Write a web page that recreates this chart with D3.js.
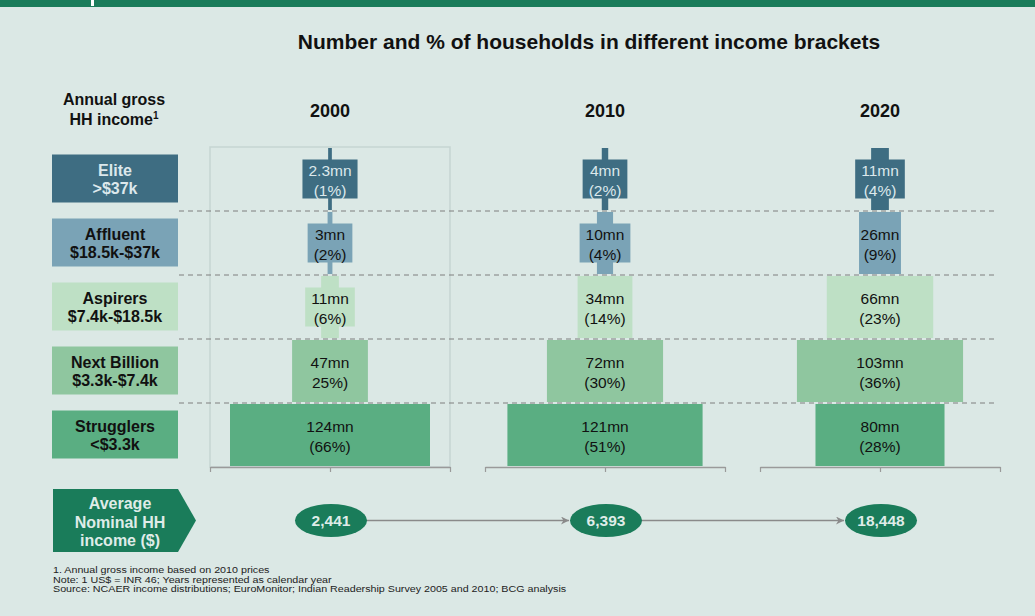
<!DOCTYPE html>
<html>
<head>
<meta charset="utf-8">
<script src="https://cdn.jsdelivr.net/npm/d3@7"></script>
<style>
  html, body { margin: 0; padding: 0; background: #dbe8e5; }
  svg { display: block; font-family: "Liberation Sans", Arial, sans-serif; }
</style>
</head>
<body>
<svg id="chart" width="1035" height="616"></svg>
<script>
// Income brackets, top (richest) to bottom
const categories = ["Elite", "Affluent", "Aspirers", "Next Billion", "Strugglers"];
const brackets = [">$37k", "$18.5k-$37k", "$7.4k-$18.5k", "$3.3k-$7.4k", "<$3.3k"];
const years = ["2000", "2010", "2020"];

// Households per bracket, millions
const households2000 = [2.3, 3, 11, 47, 124];
const households2010 = [4, 10, 34, 72, 121];
const households2020 = [11, 26, 66, 103, 80];

// Share of households per bracket, as printed
const shareLabels2000 = ["(1%)", "(2%)", "(6%)", "25%)", "(66%)"];
const shareLabels2010 = ["(2%)", "(4%)", "(14%)", "(30%)", "(51%)"];
const shareLabels2020 = ["(4%)", "(9%)", "(23%)", "(36%)", "(28%)"];

// Average nominal household income, US$
const avgIncome = [2441, 6393, 18448];

const footnotes = [
  "1. Annual gross income based on 2010 prices",
  "Note: 1 US$ = INR 46; Years represented as calendar year",
  "Source: NCAER income distributions; EuroMonitor; Indian Readership Survey 2005 and 2010; BCG analysis"
];

const households = [households2000, households2010, households2020];
const shareLabels = [shareLabels2000, shareLabels2010, shareLabels2020];

const colors = ["#3e6d82", "#7aa3b6", "#bee0c5", "#8fc69f", "#5aae82"];
const labelInk = ["#dce8ec", "#111", "#111", "#111", "#111"];
const green = "#1a7c5a";

const svg = d3.select("#chart");

// header strip
svg.append("rect").attr("x", 0).attr("y", 0).attr("width", 1035).attr("height", 7).attr("fill", green);
svg.append("rect").attr("x", 91).attr("y", 0).attr("width", 3).attr("height", 6).attr("fill", "#ffffff");

// scales
const colX = d3.scalePoint().domain(years).range([330, 880]);
const rowY = d3.scaleBand().domain(categories).range([147, 467]).padding(0);
const widthScale = d3.scaleLinear().domain([0, 124]).range([0, 200]);
const halfAxis = 120;

// title
svg.append("text")
  .attr("x", 589).attr("y", 48.5)
  .attr("text-anchor", "middle")
  .attr("font-size", 21).attr("font-weight", "bold").attr("fill", "#111")
  .text("Number and % of households in different income brackets");

// row header
const rh = svg.append("text")
  .attr("text-anchor", "middle").attr("font-size", 16).attr("font-weight", "bold").attr("fill", "#111");
rh.append("tspan").attr("x", 114).attr("y", 105).text("Annual gross");
rh.append("tspan").attr("x", 114).attr("y", 124.8).text("HH income");
rh.append("tspan").attr("font-size", 10).attr("dy", -6).text("1");

// year headers
svg.selectAll("text.year").data(years).join("text")
  .attr("class", "year")
  .attr("x", d => colX(d)).attr("y", 116.7)
  .attr("text-anchor", "middle")
  .attr("font-size", 18).attr("font-weight", "bold").attr("fill", "#111")
  .text(d => d);

// frame around the first period
svg.append("rect")
  .attr("x", colX(years[0]) - halfAxis).attr("y", rowY.range()[0])
  .attr("width", halfAxis * 2).attr("height", rowY.range()[1] - rowY.range()[0])
  .attr("fill", "none").attr("stroke", "#c6d5d2").attr("stroke-width", 1.5);

// row dividers
categories.slice(1).forEach(c => {
  svg.append("line")
    .attr("x1", 179).attr("x2", 997)
    .attr("y1", rowY(c)).attr("y2", rowY(c))
    .attr("stroke", "#7f7f7f").attr("stroke-width", 1)
    .attr("stroke-dasharray", "5,4");
});

// category boxes on the left
const catG = svg.selectAll("g.cat").data(categories).join("g").attr("class", "cat");
catG.append("rect")
  .attr("x", 52).attr("width", 126)
  .attr("y", d => rowY(d) + rowY.bandwidth() / 2 - 24.5)
  .attr("height", 48)
  .attr("fill", (d, i) => colors[i]);
catG.append("text")
  .attr("x", 115).attr("text-anchor", "middle")
  .attr("font-size", 16).attr("font-weight", "bold")
  .attr("fill", (d, i) => labelInk[i])
  .each(function (d, i) {
    const cy = rowY(d) + rowY.bandwidth() / 2;
    const t = d3.select(this);
    t.append("tspan").attr("x", 115).attr("y", cy - 3.5).text(d);
    t.append("tspan").attr("x", 115).attr("y", cy + 14.5).text(brackets[i]);
  });

// bars per period
years.forEach((yr, yi) => {
  const cx = colX(yr);
  const g = svg.append("g");
  categories.forEach((cat, ci) => {
    const v = households[yi][ci];
    const w = widthScale(v);
    const y0 = rowY(cat);
    const cy = y0 + rowY.bandwidth() / 2;
    g.append("rect")
      .attr("x", cx - w / 2).attr("y", y0 + 1)
      .attr("width", w).attr("height", rowY.bandwidth() - 2)
      .attr("fill", colors[ci]);
    const box = g.append("rect").attr("fill", colors[ci]);
    const t = g.append("text")
      .attr("text-anchor", "middle")
      .attr("font-size", 15.5)
      .attr("fill", labelInk[ci]);
    const l1 = t.append("tspan").attr("x", cx).attr("y", cy - 3.5).text(v + "mn");
    const l2 = t.append("tspan").attr("x", cx).attr("y", cy + 16.5).text(shareLabels[yi][ci]);
    // narrow bars get a label plate so the text stays readable
    if (w < 30) {
      const tw = Math.max(l1.node().getComputedTextLength(), l2.node().getComputedTextLength());
      const bw = Math.max(tw + 12, 44);
      box.attr("x", cx - bw / 2).attr("y", cy - 19.5).attr("width", bw).attr("height", 39);
    } else {
      box.remove();
    }
  });
  // baseline axis
  const ax = d3.scaleLinear().domain([0, 2]).range([cx - halfAxis, cx + halfAxis]);
  const axG = svg.append("g")
    .attr("transform", `translate(0,${rowY.range()[1]})`)
    .call(d3.axisBottom(ax).tickValues([0, 1, 2]).tickSize(5).tickSizeOuter(0).tickFormat(""));
  axG.select(".domain").attr("stroke", "#9a9a9a").attr("stroke-width", 1.5);
  axG.selectAll(".tick line").attr("stroke", "#9a9a9a").attr("stroke-width", 1.2);
});

// bottom row: average income
const rowCy = 520.5;
svg.append("path")
  .attr("d", `M53,489 L178,489 L196,${rowCy} L178,552 L53,552 Z`)
  .attr("fill", green);
const avgLab = svg.append("text")
  .attr("text-anchor", "middle").attr("font-size", 16).attr("font-weight", "bold").attr("fill", "#dfece8");
["Average", "Nominal HH", "income ($)"].forEach((s, i) => {
  avgLab.append("tspan").attr("x", 120).attr("y", 509 + i * 18.7).text(s);
});

const defs = svg.append("defs");
defs.append("marker")
  .attr("id", "arrow").attr("viewBox", "0 0 10 10")
  .attr("refX", 10).attr("refY", 5)
  .attr("markerWidth", 8).attr("markerHeight", 8)
  .attr("markerUnits", "userSpaceOnUse")
  .attr("orient", "auto")
  .append("path").attr("d", "M0,0 L10,5 L0,10 L3,5 Z").attr("fill", "#8a8a8a");

const rx = 36, ry = 16.5;
for (let i = 0; i < years.length - 1; i++) {
  svg.append("line")
    .attr("x1", colX(years[i]) + rx).attr("x2", colX(years[i + 1]) - rx)
    .attr("y1", rowCy).attr("y2", rowCy)
    .attr("stroke", "#8a8a8a").attr("stroke-width", 1.5)
    .attr("marker-end", "url(#arrow)");
}
const fmt = d3.format(",");
const ell = svg.selectAll("g.avg").data(avgIncome).join("g").attr("class", "avg");
ell.append("ellipse")
  .attr("cx", (d, i) => colX(years[i]) + 1).attr("cy", rowCy)
  .attr("rx", rx).attr("ry", ry).attr("fill", green);
ell.append("text")
  .attr("x", (d, i) => colX(years[i]) + 1).attr("y", rowCy + 5.8)
  .attr("text-anchor", "middle").attr("font-size", 15.5).attr("font-weight", "bold")
  .attr("fill", "#dfece8")
  .text(d => fmt(d));

// notes, set slightly wide
const notes = svg.append("g").attr("transform", "translate(53,0) scale(1.165,1)");
notes.selectAll("text.note").data(footnotes).join("text")
  .attr("class", "note")
  .attr("x", 0).attr("y", (d, i) => 573.5 + i * 9.2)
  .attr("font-size", 9.2).attr("fill", "#222")
  .text(d => d);
</script>
</body>
</html>
